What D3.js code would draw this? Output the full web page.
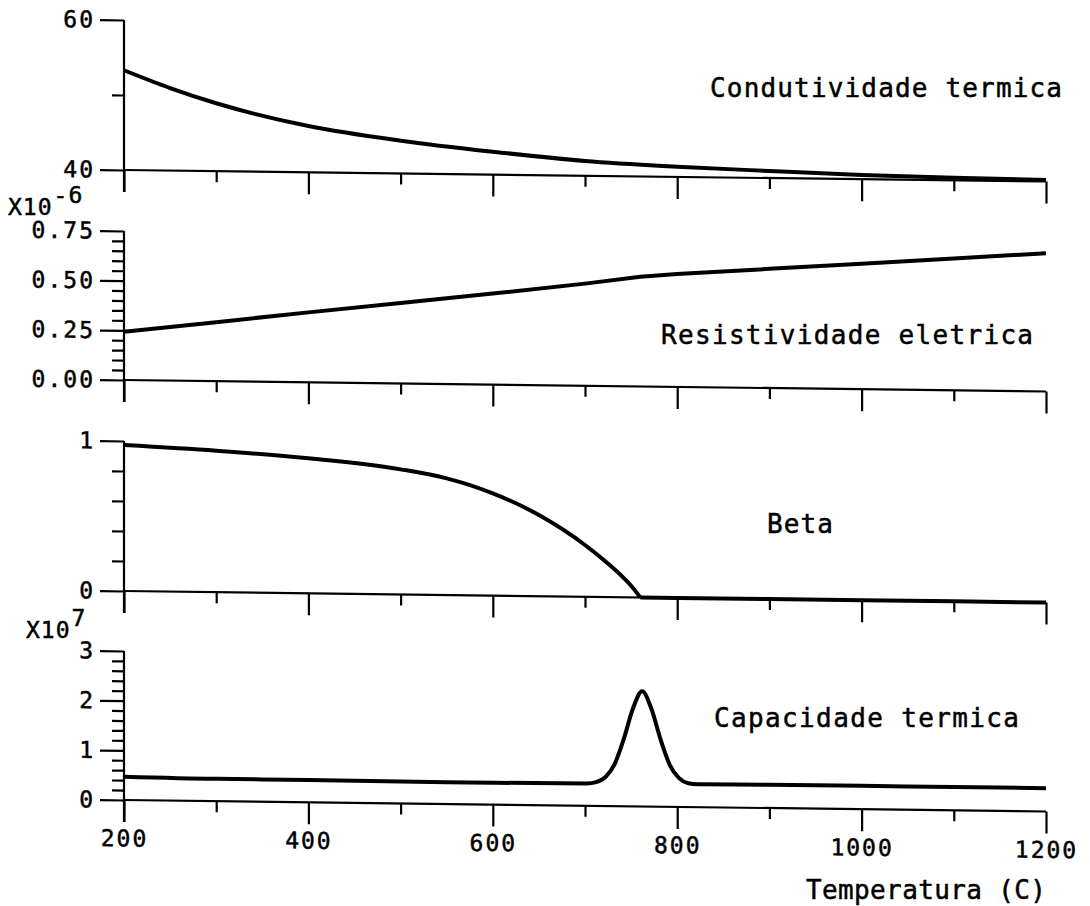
<!DOCTYPE html>
<html><head><meta charset="utf-8">
<script src="https://cdn.jsdelivr.net/npm/d3@7"></script>
<style>
html,body{margin:0;padding:0;background:#fff;}
svg{display:block;}
text{font-family:"DejaVu Sans Mono",monospace;fill:#000;stroke:#000;stroke-width:0.5px;}
</style></head><body>
<svg id="chart" width="1090" height="906"></svg>
<script>
// ---------------- data ----------------
const temps1 = [200,250,300,400,500,600,700,800,900,1000,1100,1200];
const condutividade = [53.3,51.0,49.05,46.17,44.37,43.05,41.97,41.36,40.94,40.56,40.35,40.2];

const temps2 = [200,300,400,500,600,700,760,800,900,1000,1100,1200];
const resistividade = [0.243,0.297,0.352,0.405,0.458,0.514,0.552,0.568,0.600,0.632,0.664,0.696]; // x10^-6

const temps3 = [200,300,400,500,550,600,650,700,720,740,750,755,760,800,900,1000,1100,1200];
const beta = [0.973,0.943,0.900,0.834,0.778,0.682,0.541,0.345,0.248,0.14,0.077,0.04,0,0,0,0,0,0];

const temps4 = [200,300,400,500,600,702,712,722,732,742,752,762,772,782,792,802,812,822,900,1000,1100,1200];
const capacidade = [0.47,0.45,0.45,0.44,0.44,0.45,0.48,0.58,0.84,1.35,1.97,2.32,1.97,1.35,0.84,0.58,0.48,0.46,0.47,0.47,0.47,0.47]; // x10^7

const xMajor = [200,400,600,800,1000,1200];
const xMinor = [300,500,700,900,1100];
const xLabels = ["200","400","600","800","1000","1200"];

const y1Major = [40,60], y1Labels = ["40","60"], y1Minor = [50];
const y2Major = [0,0.25,0.5,0.75], y2Labels = ["0.00","0.25","0.50","0.75"];
const y2Minor = [0.05,0.1,0.15,0.2,0.3,0.35,0.4,0.45,0.55,0.6,0.65,0.7];
const y3Major = [0,1], y3Labels = ["0","1"], y3Minor = [0.2,0.4,0.6,0.8];
const y4Major = [0,1,2,3], y4Labels = ["0","1","2","3"];
const y4Minor = [0.2,0.4,0.6,0.8,1.2,1.4,1.6,1.8,2.2,2.4,2.6,2.8];

const titles = ["Condutividade termica","Resistividade eletrica","Beta","Capacidade termica"];
const xTitle = "Temperatura (C)";
const exponents = [null,"-6",null,"7"];

// ---------------- drawing ----------------
const svg = d3.select("#chart");
const x = d3.scaleLinear().domain([200,1200]).range([124,1046]);
const X0 = 124;
const skewDeg = Math.atan(11.5/922)*180/Math.PI;
const g = svg.append("g").attr("transform",`translate(${X0},0) skewY(${skewDeg}) translate(${-X0},0)`);

const panels = [
  {t:temps1, v:condutividade, dom:[40,60], rng:[170,20], maj:y1Major, lab:y1Labels, min:y1Minor, curve:d3.curveMonotoneX},
  {t:temps2, v:resistividade, dom:[0,0.75], rng:[380,231], maj:y2Major, lab:y2Labels, min:y2Minor, curve:d3.curveLinear},
  {t:temps3, v:beta, dom:[0,1], rng:[591,441], maj:y3Major, lab:y3Labels, min:y3Minor, curve:d3.curveMonotoneX, split:true},
  {t:temps4, v:capacidade, dom:[0,3], rng:[800,651], maj:y4Major, lab:y4Labels, min:y4Minor, curve:d3.curveMonotoneX}
];

const AX = 2.2;
const LW = 4;
panels.forEach((p,i)=>{
  const y = d3.scaleLinear().domain(p.dom).range(p.rng);
  const base = y(p.dom[0]);
  const pg = g.append("g");
  pg.append("line").attr("x1",X0).attr("x2",X0).attr("y1",y(p.dom[1])).attr("y2",base+22)
    .attr("stroke","#000").attr("stroke-width",AX);
  pg.append("line").attr("x1",X0).attr("x2",x(1200)).attr("y1",base).attr("y2",base)
    .attr("stroke","#000").attr("stroke-width",AX);
  const ya = d3.axisLeft(y).tickValues(p.maj).tickSize(24).tickPadding(5)
     .tickFormat((d,k)=>p.lab[k]);
  const yg = pg.append("g").attr("transform",`translate(${X0},0)`).call(ya);
  yg.select(".domain").remove();
  yg.selectAll("line").attr("stroke","#000").attr("stroke-width",AX);
  yg.selectAll("text").attr("font-size",23).attr("letter-spacing",2)
     .attr("font-family","DejaVu Sans Mono").attr("fill","#000");
  const ym = d3.axisLeft(y).tickValues(p.min).tickSize(12).tickFormat("");
  const ymg = pg.append("g").attr("transform",`translate(${X0},0)`).call(ym);
  ymg.select(".domain").remove();
  ymg.selectAll("line").attr("stroke","#000").attr("stroke-width",AX);
  const xa = d3.axisBottom(x).tickValues(xMajor).tickSize(22).tickPadding(8)
     .tickFormat((d,k)=> i===3 ? xLabels[k] : "");
  const xg = pg.append("g").attr("transform",`translate(0,${base})`).call(xa);
  xg.select(".domain").remove();
  xg.selectAll("line").attr("stroke","#000").attr("stroke-width",AX);
  xg.selectAll("text").attr("font-size",23).attr("letter-spacing",2)
     .attr("font-family","DejaVu Sans Mono").attr("fill","#000");
  const xm = d3.axisBottom(x).tickValues(xMinor).tickSize(11).tickFormat("");
  const xmg = pg.append("g").attr("transform",`translate(0,${base})`).call(xm);
  xmg.select(".domain").remove();
  xmg.selectAll("line").attr("stroke","#000").attr("stroke-width",AX);

  const pts = p.t.map((t,k)=>[t,p.v[k]]);
  const line = d3.line().x(d=>x(d[0])).y(d=>y(d[1]));
  if(p.split){
    const z = p.v.indexOf(0);
    pg.append("path").attr("d",line.curve(p.curve)(pts.slice(0,z+1)))
      .attr("fill","none").attr("stroke","#000").attr("stroke-width",LW);
    pg.append("path").attr("d",d3.line().x(d=>x(d[0])).y(d=>y(d[1]))(pts.slice(z)))
      .attr("fill","none").attr("stroke","#000").attr("stroke-width",LW);
  } else {
    pg.append("path").attr("d",line.curve(p.curve)(pts))
      .attr("fill","none").attr("stroke","#000").attr("stroke-width",LW).attr("stroke-linejoin","round");
  }
});

const expPos = [null,{x:8,y:215},null,{x:26,y:638}];
exponents.forEach((e,i)=>{
  if(!e) return;
  const t = svg.append("text").attr("x",expPos[i].x).attr("y",expPos[i].y)
    .attr("font-size",23).attr("letter-spacing",1);
  t.append("tspan").text("X10");
  t.append("tspan").attr("dy",-12).attr("dx",1).text(e);
});

const titlePos = [
  {x:710,y:97,w:352},
  {x:661,y:344,w:372},
  {x:767,y:533,w:66},
  {x:714,y:727,w:305}
];
titles.forEach((s,i)=>{
  svg.append("text").attr("x",titlePos[i].x).attr("y",titlePos[i].y)
    .attr("font-size",26).attr("textLength",titlePos[i].w).attr("lengthAdjust","spacing").text(s);
});
svg.append("text").attr("x",806).attr("y",899).attr("font-size",26)
  .attr("textLength",240).attr("lengthAdjust","spacing").text(xTitle);
</script>
</body></html>
